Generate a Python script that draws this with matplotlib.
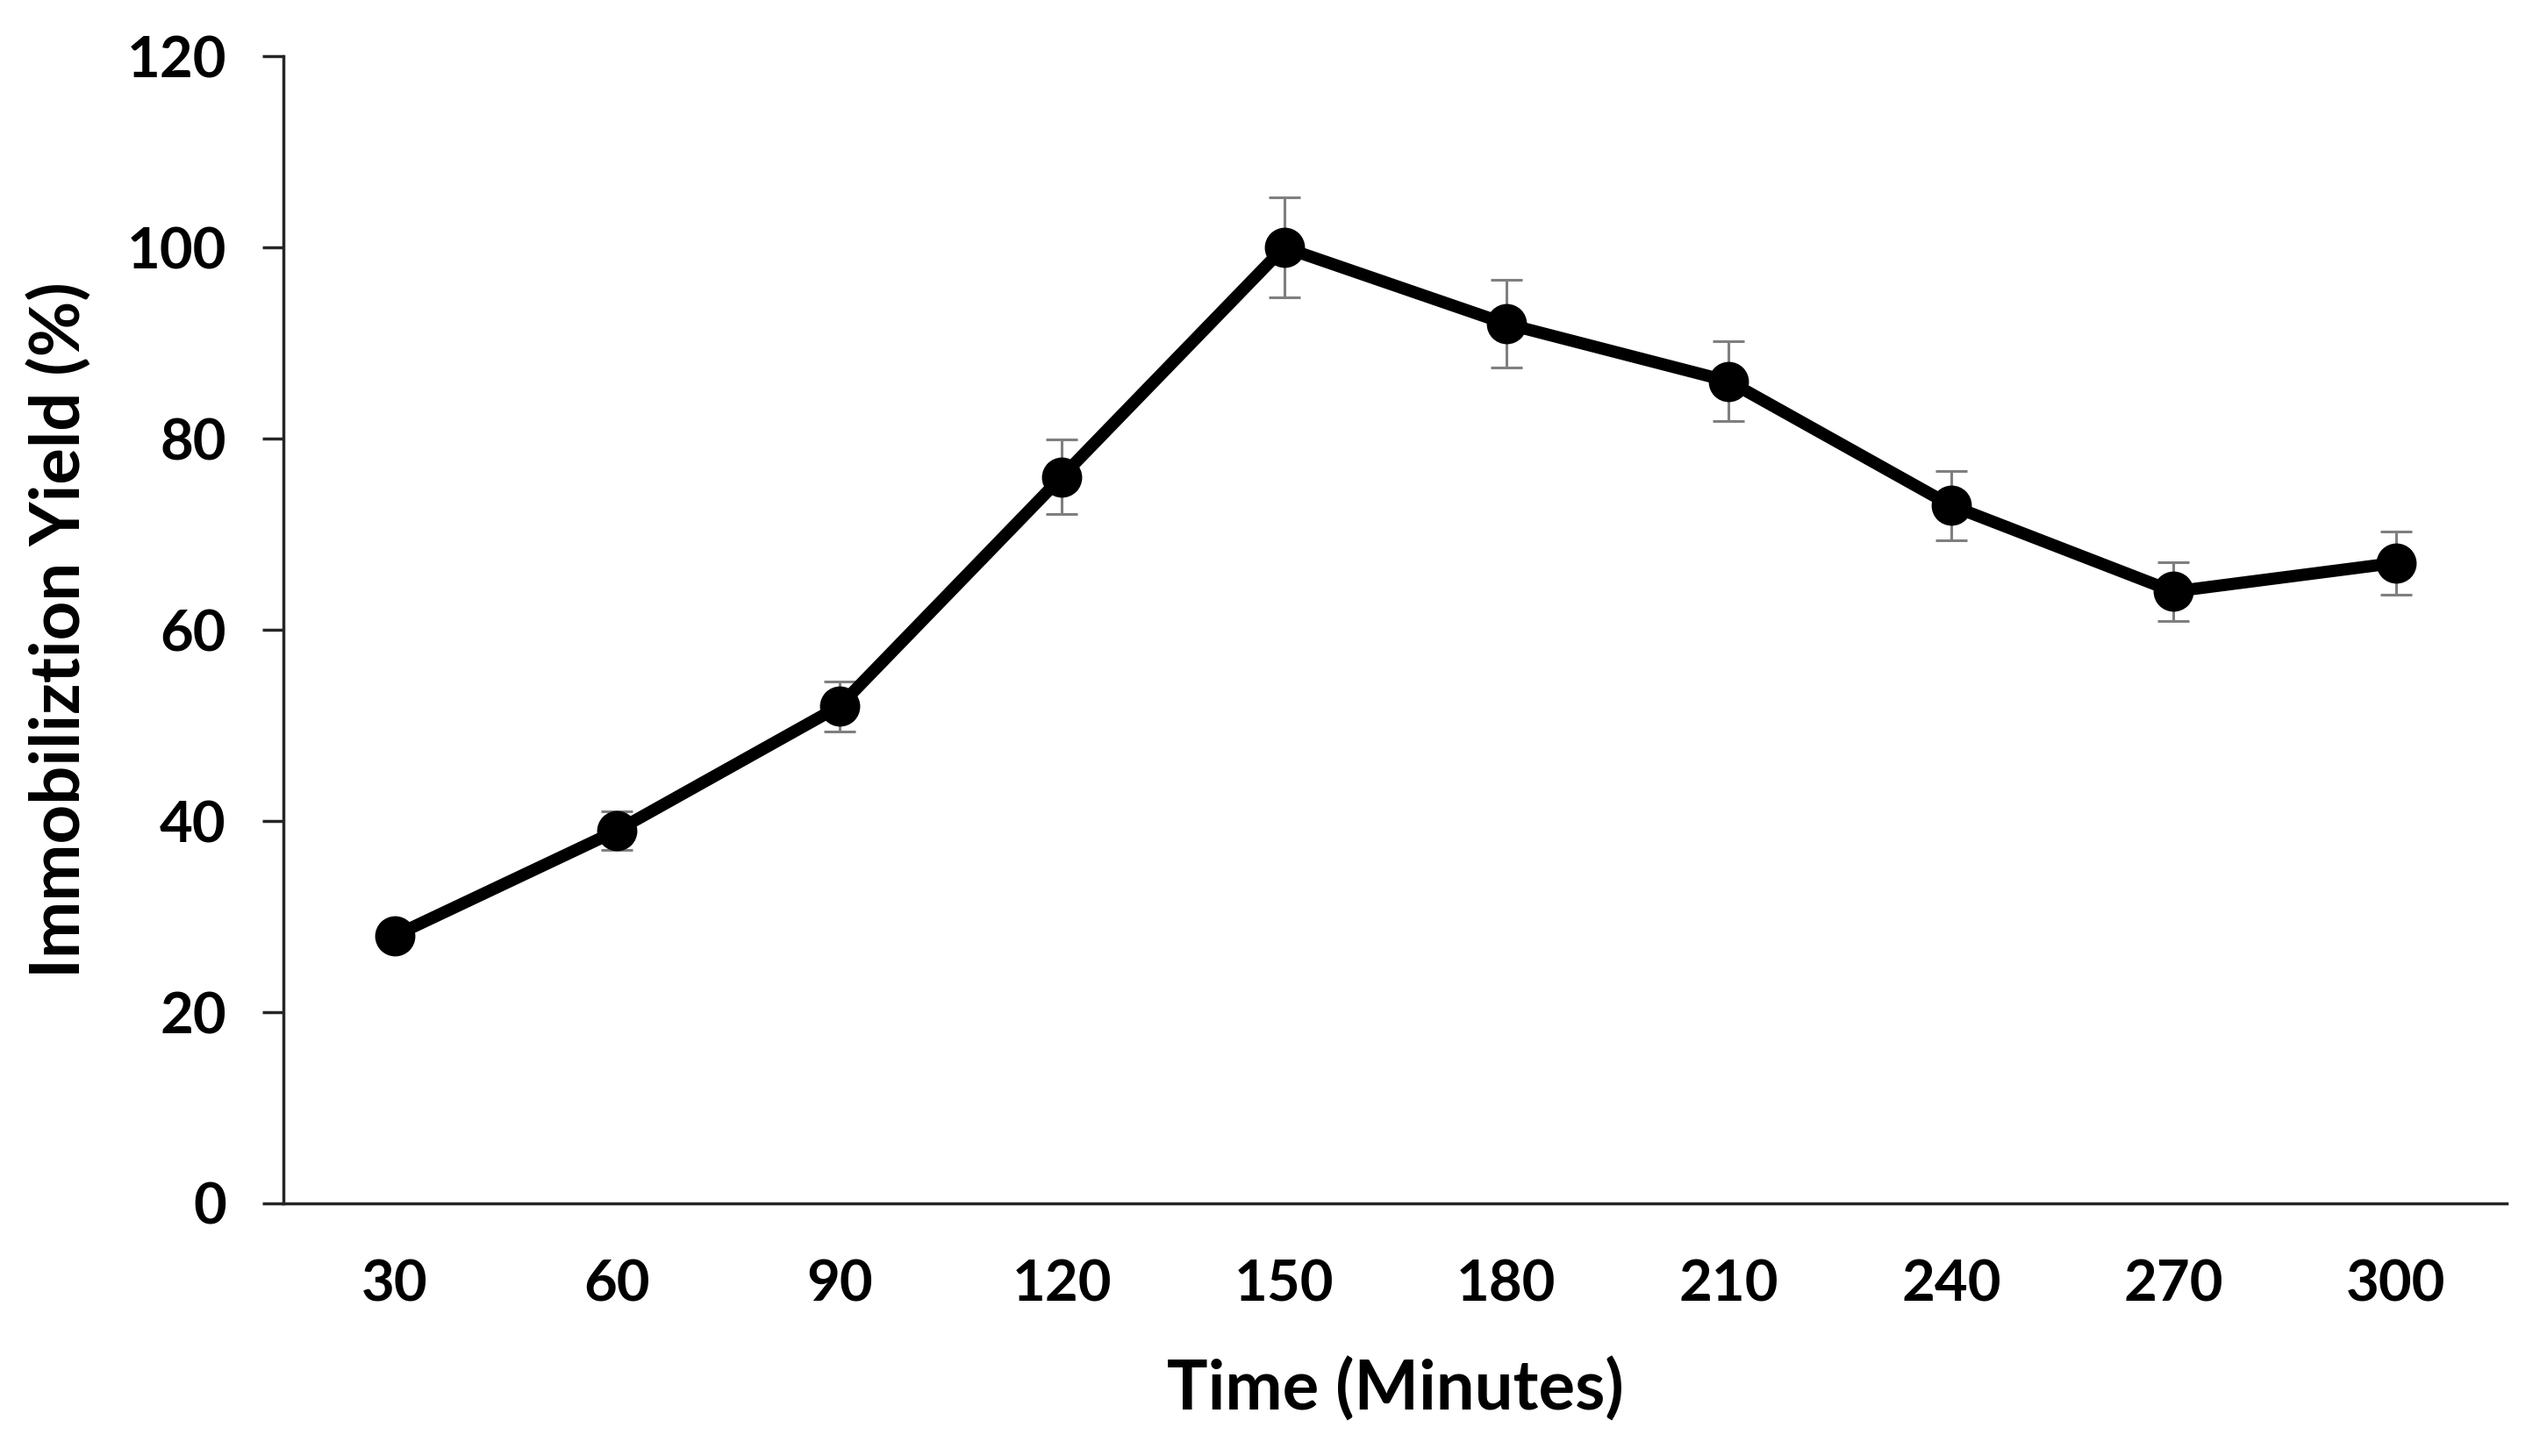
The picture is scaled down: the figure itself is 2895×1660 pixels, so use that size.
import matplotlib
matplotlib.use("Agg")
import matplotlib.pyplot as plt

time_min = [30, 60, 90, 120, 150, 180, 210, 240, 270, 300]
yield_pct = [28, 39, 52, 76, 100, 92, 86, 73, 64, 67]
yield_err = [1.0, 2.0, 2.6, 3.9, 5.2, 4.6, 4.2, 3.6, 3.1, 3.3]
y_ticks = [0, 20, 40, 60, 80, 100, 120]

plt.rcParams['font.family'] = ['Lato', 'DejaVu Sans']
plt.rcParams['font.weight'] = 'bold'

fig = plt.figure(figsize=(28.95, 16.6), dpi=100)
ax = fig.add_axes([0.1116, 0.1735, 0.8754, 0.7879])

ax.errorbar(time_min, yield_pct, yerr=yield_err, fmt='none',
            ecolor='#7f7f7f', elinewidth=2.2, capsize=13, capthick=2.2, zorder=2)
ax.plot(time_min, yield_pct, color='black', linewidth=10, marker='o',
        markersize=32, zorder=3)

ax.set_xlim(15, 315)
ax.set_ylim(0, 120)
ax.set_xticks(time_min)
ax.set_yticks(y_ticks)

for side in ['top', 'right']:
    ax.spines[side].set_visible(False)
for side in ['left', 'bottom']:
    ax.spines[side].set_linewidth(2.5)
    ax.spines[side].set_color('#262626')

ax.tick_params(axis='y', length=17, width=2.5, color='#262626', pad=30,
               labelsize=47)
ax.tick_params(axis='x', length=0, pad=46, labelsize=47)

ax.set_xlabel('Time (Minutes)', fontsize=56, fontweight='bold', labelpad=38)
ax.set_ylabel('Immobiliztion Yield (%)', fontsize=56, fontweight='bold',
              labelpad=28)

fig.savefig('out.png', dpi=100)
